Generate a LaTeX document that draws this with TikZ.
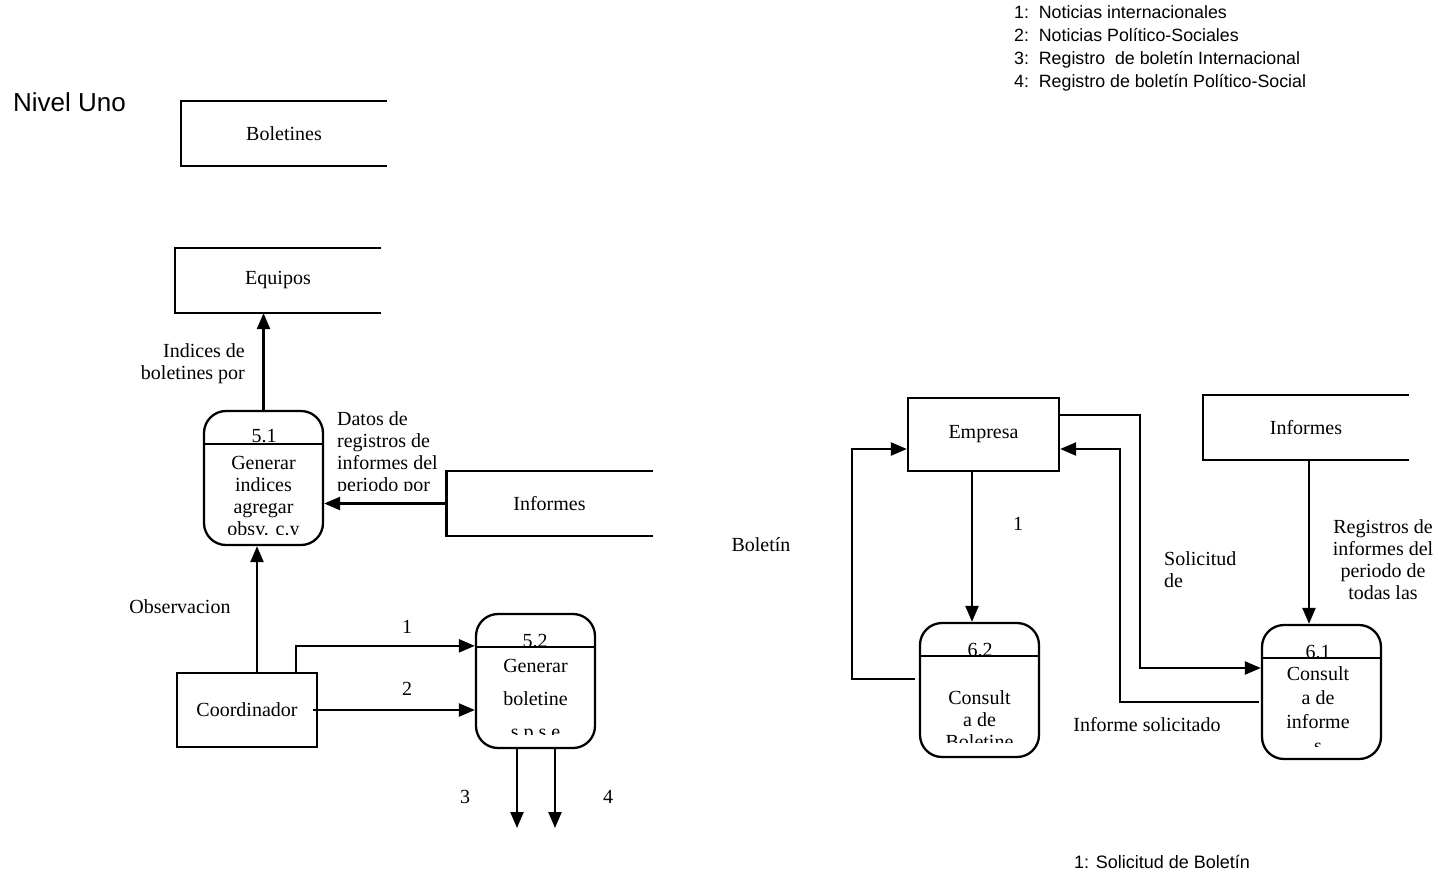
\documentclass[tikz,border=0pt]{standalone}
\usepackage{fontspec}
\setmainfont{Liberation Serif}
\newfontfamily\arial{Liberation Sans}
\usetikzlibrary{arrows.meta}
\begin{document}
\begin{tikzpicture}[x=1pt,y=-1pt,>={Triangle[length=16pt,width=13pt]},line width=2.3pt,
        every node/.style={font=\fontsize{20}{22}\selectfont,inner sep=0pt},
        store/.style={minimum width=204pt,minimum height=63pt},
        ext/.style={draw,minimum width=140pt,minimum height=74pt},
        proc/.style={draw,rounded corners=22pt,minimum width=119pt,minimum height=134pt},
        lbl/.style={align=center}]
    \useasboundingbox (0,0) rectangle (1443,876);
    \node[anchor=west,font=\arial\fontsize{26}{28}\selectfont] (nivel) at (12,102) {Nivel Uno};
    \node[anchor=north west,align=left,font=\arial\fontsize{17.8}{23}\selectfont] (leg) at (1013,4)
        {1:\ \ Noticias internacionales\\2:\ \ Noticias Político-Sociales\\
         3:\ \ Registro\ \ de boletín Internacional\\4:\ \ Registro de boletín Político-Social};
    \node[anchor=west,font=\arial\fontsize{18}{20}\selectfont] (nota) at (1073,862) {1: Solicitud de Boletín};
    % almacenes
    \node[store] (bol) at (284,133.5) {Boletines};
    \node[store] (equ) at (278,280.5) {Equipos};
    \node[store] (infA) at (549.5,503.5) {Informes};
    \node[store] (infB) at (1306,427.5) {Informes};
    \foreach \s in {bol,equ,infA,infB}
        \draw (\s.north east) -- (\s.north west) -- (\s.south west) -- (\s.south east);
    % entidades
    \node[ext] (coo) at (247,710) {Coordinador};
    \node[ext,minimum width=151pt,minimum height=73pt] (emp) at (983.5,434.5) {Empresa};
    % procesos
    \node[proc] (p51) at (263.5,478) {};
    \node[proc] (p52) at (535.5,681) {};
    \node[proc] (p62) at (979.5,690) {};
    \node[proc] (p61) at (1321.5,692) {};
    \foreach \p in {p51,p52,p62,p61}
        \draw ([yshift=-34pt]\p.north west) -- ([yshift=-34pt]\p.north east);
    \node (n51) at (264,436) {5.1};
    \node (n52) at (535,641) {5.2};
    \node (n62) at (980,650) {6.2};
    \node (n61) at (1318,652) {6.1};
    \begin{scope}
        \clip (204,446) rectangle (323,534);
        \node[lbl,anchor=north] (t51) at (263.5,455) {Generar\\indices\\agregar\\obsv. c.y};
    \end{scope}
    \begin{scope}
        \clip (476,651) rectangle (595,734);
        \node[lbl,anchor=north,font=\fontsize{20}{33}\selectfont] (t52) at (535.5,658) {Generar\\boletine\\s p.s.e};
    \end{scope}
    \begin{scope}
        \clip (920,659) rectangle (1039,742);
        \node[lbl,anchor=north] (t62) at (979.5,689) {Consult\\a de\\Boletine};
    \end{scope}
    \begin{scope}
        \clip (1262,661) rectangle (1381,746);
        \node[lbl,anchor=north,font=\fontsize{20}{24}\selectfont] (t61) at (1318,665) {Consult\\a de\\informe\\s};
    \end{scope}
    % flujos nivel 5
    \draw[->] (p51.north) -- (p51.north |- equ.south);
    \draw[->] (infA.west) -- (infA.west -| p51.east);
    \draw[->] ([xshift=10pt]coo.north) -- ([xshift=10pt]coo.north |- p51.south);
    \draw[->] ([xshift=49pt]coo.north) |- ([yshift=-33pt]p52.north west);
    \draw[->] ([xshift=-5pt]coo.east) -- (coo.east -| p52.west);
    \coordinate (o3) at (517,828);
    \coordinate (o4) at (555,828);
    \draw[->] (o3 |- p52.south) -- (o3);
    \draw[->] (o4 |- p52.south) -- (o4);
    % flujos nivel 6
    \coordinate (kB) at (852,449);
    \coordinate (kS) at (1140,415);
    \coordinate (kI) at (1120,449);
    \draw[->] ([xshift=-11.5pt]emp.south) -- ([xshift=-11.5pt]emp.south |- p62.north);
    \draw[->] ([xshift=-4pt,yshift=11pt]p62.west) -| (kB) -- (kB -| emp.west);
    \draw[->] (kS -| emp.east) -- (kS) |- ([yshift=24pt]p61.west);
    \draw[->] ([xshift=-2pt,yshift=-10pt]p61.west) -| (kI) -- (kI -| emp.east);
    \draw[->] ([xshift=3pt]infB.south) -- ([xshift=3pt]infB.south |- p61.north);
    % etiquetas
    \begin{scope}[every node/.append style={align=center}]
        \node[anchor=north east,align=right] (l1) at (246,342) {Indices de\\boletines por};
        \begin{scope}
            \clip (330,400) rectangle (445,490);
            \node[anchor=north west,align=left] (l2) at (336,410) {Datos de\\registros de\\informes del\\periodo por};
        \end{scope}
        \node (l3) at (180,607) {Observacion};
        \node (l4) at (407,627) {1};
        \node (l5) at (407,689) {2};
        \node (l6) at (465,797) {3};
        \node (l7) at (608,797) {4};
        \node (l8) at (1018,524) {1};
        \node (l9) at (761,545) {Boletín};
        \node[anchor=north west,align=left] (l10) at (1163,550) {Solicitud\\de};
        \node (l11) at (1147,725) {Informe solicitado};
        \begin{scope}
            \clip (1320,510) rectangle (1443,600);
            \node[anchor=north] (l12) at (1383,518) {Registros de\\informes del\\periodo de\\todas las};
        \end{scope}
    \end{scope}
\end{tikzpicture}
\end{document}
